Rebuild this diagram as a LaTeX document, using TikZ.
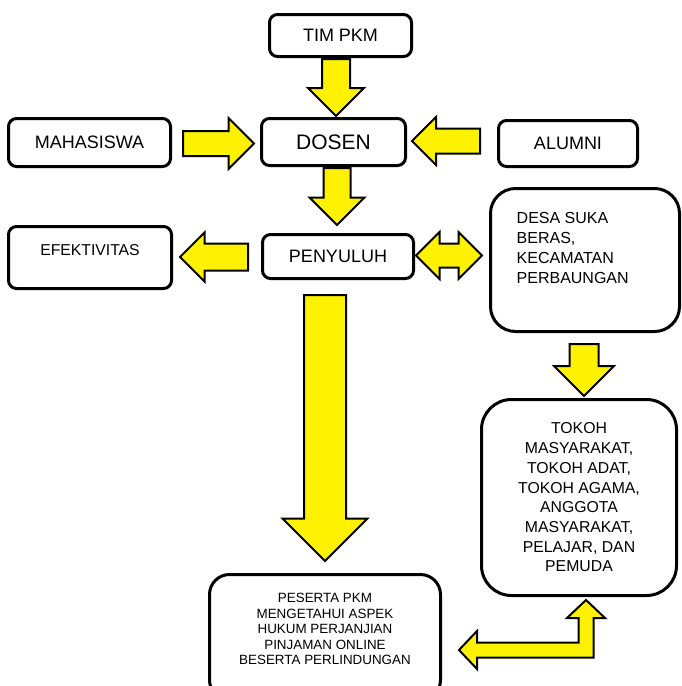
\documentclass[tikz,border=0pt]{standalone}
\usepackage{fontspec}
\setmainfont{Liberation Sans}
\usetikzlibrary{shapes.arrows}

\begin{document}
\begin{tikzpicture}[x=1pt,y=-1pt,
	box/.style={shape=rectangle,rounded corners=8pt,draw=black,line width=3pt,inner sep=0pt},
	blockarrow/.style={shape=single arrow,draw=black,fill=yellow,line width=2pt,inner xsep=0pt,anchor=tail},
	bentarrow/.style={draw=black,fill=yellow,line width=2pt,line join=miter}]
	\useasboundingbox (0,0) rectangle (681,686);
	\node[box,minimum width=142pt,minimum height=42pt,font=\fontsize{18}{22}\selectfont] (timpkm) at (340.5,35.5) {TIM PKM};
	\node[box,minimum width=144pt,minimum height=47pt,font=\fontsize{21}{25}\selectfont] (dosen) at (333.5,142) {DOSEN};
	\node[box,minimum width=162pt,minimum height=48pt,font=\fontsize{18}{22}\selectfont] (mahasiswa) at (89.5,142.5) {MAHASISWA};
	\node[box,minimum width=139pt,minimum height=46pt,font=\fontsize{18}{22}\selectfont] (alumni) at (568,143.5) {ALUMNI};
	\node[box,minimum width=163pt,minimum height=62pt,
		label={[font=\fontsize{15.75}{19}\selectfont,yshift=7.5pt]center:EFEKTIVITAS}] (efektivitas) at (90,257.5) {};
	\node[box,minimum width=151pt,minimum height=44pt,font=\fontsize{18}{22}\selectfont] (penyuluh) at (338,256.5) {PENYULUH};
	\node[box,rounded corners=25pt,minimum width=189pt,minimum height=143pt,
		label={[font=\fontsize{16}{20}\selectfont,align=left,inner sep=0pt,anchor=north west,xshift=27.5pt,yshift=-25.5pt]north west:{DESA SUKA\\BERAS,\\KECAMATAN\\PERBAUNGAN}}] (desa) at (585,260) {};
	\node[box,rounded corners=30pt,minimum width=195pt,minimum height=196pt,align=center,
		font=\fontsize{15.8}{19.7}\selectfont] (tokoh) at (579,497.5)
		{TOKOH\\MASYARAKAT,\\TOKOH ADAT,\\TOKOH AGAMA,\\ANGGOTA\\MASYARAKAT,\\PELAJAR, DAN\\PEMUDA};
	\node[box,rounded corners=20pt,minimum width=231pt,minimum height=125.5pt,
		label={[font=\fontsize{13.4}{15.5}\selectfont,align=center,yshift=8pt]center:{PESERTA PKM\\MENGETAHUI ASPEK\\HUKUM PERJANJIAN\\PINJAMAN ONLINE\\BESERTA PERLINDUNGAN}}] (peserta) at (325,637.25) {};

	% yellow block arrows
	\node[blockarrow,rotate=-90,minimum height=57pt,inner ysep=13pt,single arrow head extend=14pt] (a1) at (336,58) {};
	\node[blockarrow,rotate=-90,minimum height=57pt,inner ysep=12.5pt,single arrow head extend=14pt] (a2) at (337,167) {};
	\node[blockarrow,minimum height=71pt,inner ysep=11.5pt,single arrow head extend=13pt] (a3) at (182,143.5) {};
	\node[blockarrow,rotate=180,minimum height=68pt,inner ysep=11.5pt,single arrow head extend=11.5pt] (a4) at (481,141) {};
	\node[blockarrow,rotate=180,minimum height=68pt,inner ysep=12.5pt,single arrow head extend=11pt] (a5) at (249,257) {};
	\node[blockarrow,shape=double arrow,anchor=center,minimum height=66pt,inner ysep=11pt,double arrow head extend=11.5pt] (a6) at (449,255.5) {};
	\node[blockarrow,rotate=-90,minimum height=266pt,inner ysep=20pt,single arrow head extend=21.5pt] (a7) at (325,294) {};
	\node[blockarrow,rotate=-90,minimum height=52pt,inner ysep=13.5pt,single arrow head extend=15.5pt] (a8) at (584,343) {};

	% bent arrow back to the participants
	\coordinate (bup) at (586,600);
	\coordinate (bleft) at (459,650);
	\draw[bentarrow] (bup) -- (605,618) -- (593.5,618) -- (593.5,657.5) -- (477,657.5) -- (477,669)
		-- (bleft) -- (477,631) -- (477,642.5) -- (578.5,642.5) -- (578.5,618) -- (567,618) -- cycle;
\end{tikzpicture}
\end{document}
